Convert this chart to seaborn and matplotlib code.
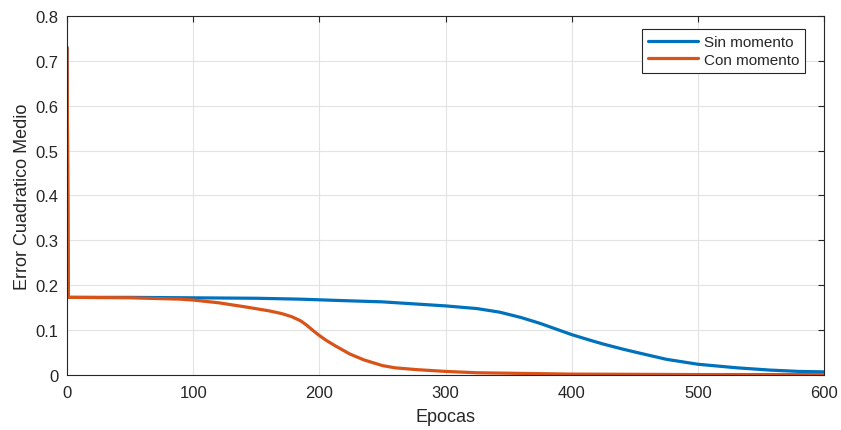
import matplotlib
matplotlib.use("Agg")
import matplotlib.pyplot as plt
import seaborn as sns
import pandas as pd

epochs_sin = [0, 1, 50, 100, 150, 185, 216, 250, 300, 325, 343, 360, 375, 390, 400, 414, 425, 440, 452,
              475, 500, 531, 557, 580, 600]
mse_sin = [0.73, 0.173, 0.173, 0.172, 0.171, 0.169, 0.166, 0.163, 0.154, 0.148, 0.140, 0.128, 0.115, 0.100,
           0.090, 0.078, 0.069, 0.058, 0.050, 0.035, 0.024, 0.016, 0.011, 0.008, 0.007]

epochs_con = [0, 1, 50, 90, 100, 120, 143, 160, 170, 178, 185, 190, 195, 200, 205, 212, 224, 235, 243,
              250, 260, 277, 300, 325, 350, 400, 500, 600]
mse_con = [0.73, 0.173, 0.172, 0.169, 0.167, 0.161, 0.151, 0.143, 0.137, 0.130, 0.121, 0.111, 0.099, 0.088,
           0.078, 0.066, 0.047, 0.034, 0.027, 0.021, 0.016, 0.012, 0.008, 0.005, 0.004, 0.002, 0.001, 0.001]

series_names = ["Sin momento", "Con momento"]
colors = ["#0072BD", "#D95319"]
x_ticks = [0, 100, 200, 300, 400, 500, 600]
y_ticks = [0, 0.1, 0.2, 0.3, 0.4, 0.5, 0.6, 0.7, 0.8]

df = pd.concat([
    pd.DataFrame({"Epocas": epochs_sin, "MSE": mse_sin, "serie": series_names[0]}),
    pd.DataFrame({"Epocas": epochs_con, "MSE": mse_con, "serie": series_names[1]}),
], ignore_index=True)

sns.set_theme(style="white")
plt.rcParams["font.family"] = ["Liberation Sans", "DejaVu Sans"]

fig = plt.figure(figsize=(8.41, 4.31), dpi=100)
ax = fig.add_axes([0.0797, 0.1276, 0.9001, 0.833])

sns.lineplot(data=df, x="Epocas", y="MSE", hue="serie", hue_order=series_names,
             palette=colors, linewidth=2.3, ax=ax, sort=False, estimator=None)
for ln in ax.get_lines():
    ln.set_solid_joinstyle("round")

ax.set_xlim(0, 600)
ax.set_ylim(0, 0.8)
ax.set_xticks(x_ticks)
ax.set_yticks(y_ticks)
ax.set_yticklabels([("0" if v == 0 else f"{v:g}") for v in y_ticks])
ax.grid(True, color="#e3e3e3", linewidth=0.8)
ax.set_axisbelow(True)
for s in ax.spines.values():
    s.set_color("#262626")
    s.set_linewidth(0.8)
ax.tick_params(direction="in", top=True, right=True, length=4, width=0.8,
               colors="#262626", labelsize=12, labelcolor="#262626")
ax.tick_params(axis="x", pad=7)
ax.tick_params(axis="y", pad=6)
ax.set_xlabel("Epocas", fontsize=13, color="#262626", labelpad=6)
ax.set_ylabel("Error Cuadratico Medio", fontsize=13, color="#262626", labelpad=3)

leg = ax.legend(loc="upper right", bbox_to_anchor=(0.975, 0.964), fontsize=11, frameon=True,
                fancybox=False, framealpha=1, edgecolor="#262626", borderaxespad=0.0,
                handlelength=3.3, handletextpad=0.35, labelspacing=0.25, borderpad=0.4)
leg.get_frame().set_linewidth(0.8)

fig.savefig("out.png", dpi=100)
